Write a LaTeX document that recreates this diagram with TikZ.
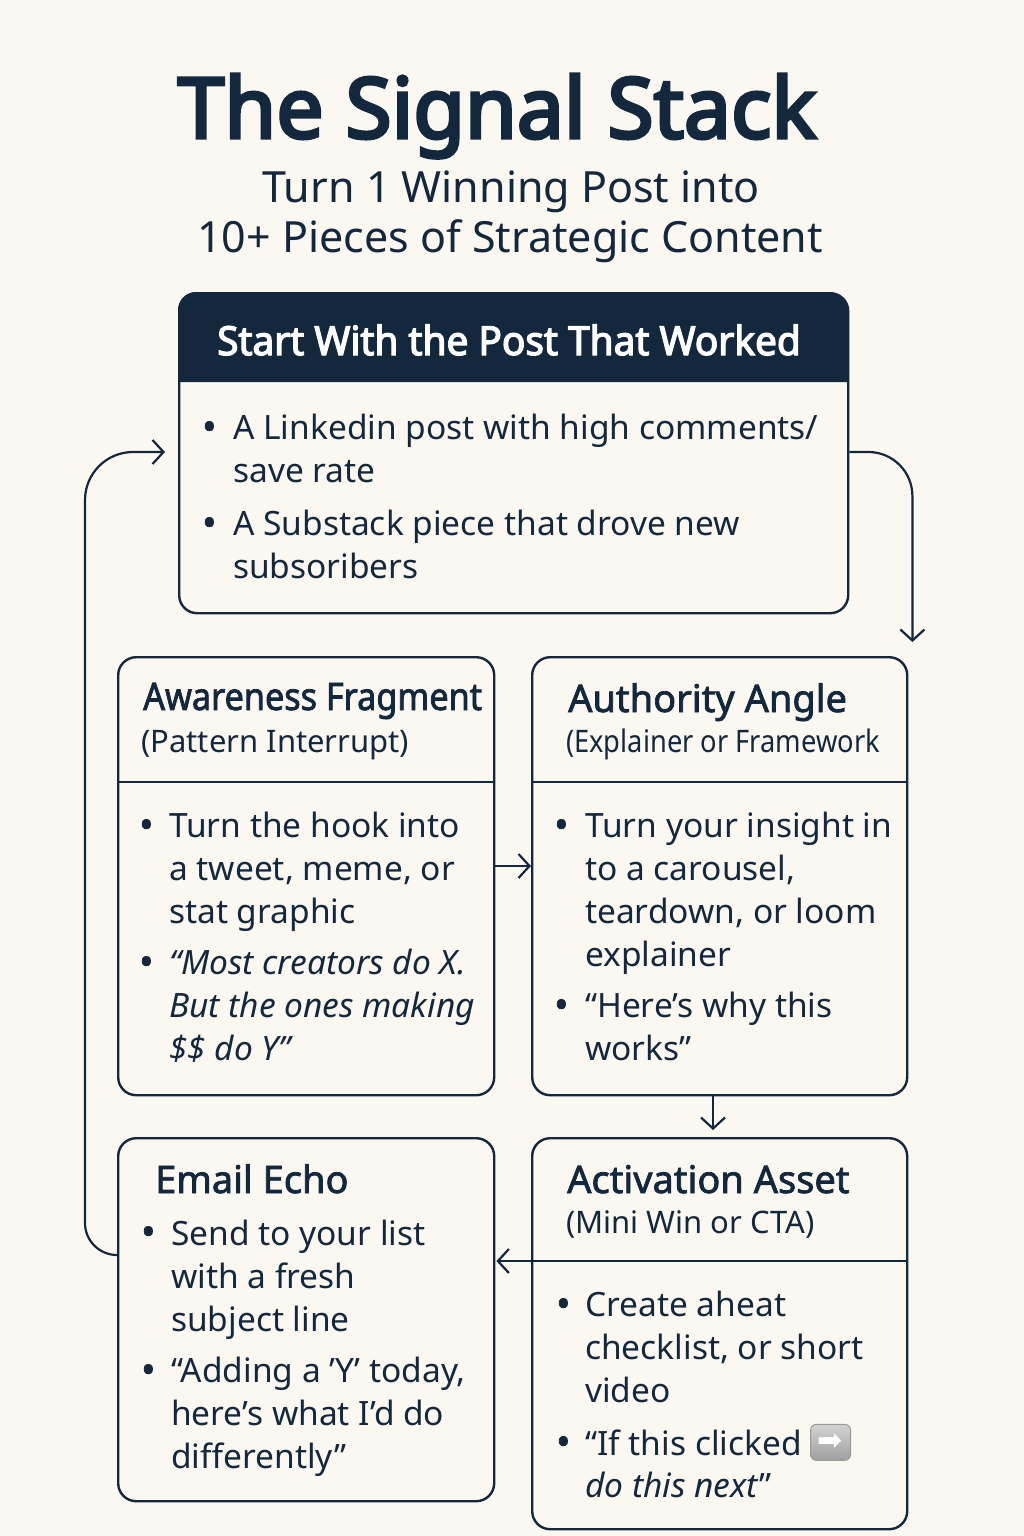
\documentclass[tikz,border=0pt]{standalone}
\usepackage{fontspec}
\setmainfont{Noto Sans}[BoldFont={Noto Sans}, BoldFeatures={FakeBold=2}]
\newfontfamily\titlefont{Noto Sans}[BoldFont={Noto Sans}, BoldFeatures={FakeBold=4}]
\newfontfamily\heavyfont{Noto Sans}[FakeStretch=0.97, BoldFont={Noto Sans}, BoldFeatures={FakeBold=3.2}]
\newfontfamily\narrowfont{Noto Sans}[FakeStretch=0.9, BoldFont={Noto Sans}, BoldFeatures={FakeBold=2}]
\newfontfamily\subnarrow{Noto Sans}[FakeStretch=0.88]
\newfontfamily\emojifont{DejaVu Sans}
\usetikzlibrary{arrows.meta}
\definecolor{bg}{HTML}{FBF8F2}
\definecolor{navy}{HTML}{14283D}
\tikzset{
 card/.style={draw=navy, line width=2.4pt, rounded corners=18pt, anchor=north west, inner sep=0pt},
 divider/.style={draw=navy, line width=2.4pt},
 conn/.style={draw=navy, line width=2.2pt, -{Straight Barb[length=11pt,width=24pt]}},
 bodytxt/.style={anchor=base west, inner sep=0pt, align=left, text=navy, font=\fontsize{33.5}{42.7}\selectfont},
 itxt/.style={bodytxt, font=\fontsize{33.5}{42.7}\selectfont\itshape},
 bul/.style={anchor=base west, inner sep=0pt, text=navy, font=\bfseries\fontsize{38}{42.7}\selectfont},
 headtxt/.style={anchor=base west, inner sep=0pt, text=navy, font=\bfseries\fontsize{38}{44}\selectfont},
 subtxt/.style={anchor=base west, inner sep=0pt, text=navy, font=\fontsize{31}{40}\selectfont},
 emo/.style={rounded corners=6pt, top color=gray!35, bottom color=gray!75, draw=gray!80, line width=1pt,
   minimum width=40pt, minimum height=36pt, inner sep=0pt, text=white, font=\emojifont\fontsize{30}{30}\selectfont},
}
\begin{document}
\begin{tikzpicture}[x=1pt,y=-1pt]
\useasboundingbox (0,0) rectangle (1024,1536);
\fill[bg] (0,0) rectangle (1024,1536);

% title
\node[anchor=base, inner sep=0pt, text=navy, font=\titlefont\bfseries\fontsize{84}{90}\selectfont] (title) at (497,138) {The Signal Stack};
\node[anchor=base, inner sep=0pt, text=navy, font=\fontsize{43}{50}\selectfont] (sub1) at (511,202) {Turn 1 Winning Post into};
\node[anchor=base, inner sep=0pt, text=navy, font=\fontsize{43}{50}\selectfont] (sub2) at (510,252) {10+ Pieces of Strategic Content};

% top card
\fill[navy] (178,382) [rounded corners=18pt] -- (178,292) -- (847,292) [sharp corners] -- (847,382) -- cycle;
\node[card, minimum width=669pt, minimum height=320pt] (top) at (178,292) {};
\node[anchor=base, inner sep=0pt, text=white, font=\heavyfont\bfseries\fontsize{40}{44}\selectfont] (toph) at (509,355) {Start With the Post That Worked};
\node[bul] (tb1) at (202,440) {•};
\node[bodytxt] (tt1) at (233,482) {A Linkedin post with high comments/\\save rate};
\node[bul] (tb2) at (202,536) {•};
\node[bodytxt] (tt2) at (233,578) {A Substack piece that drove new\\subsoribers};

% awareness card
\node[card, minimum width=376pt, minimum height=438pt] (aw) at (117,656) {};
\draw[divider] (117,782) -- (493,782);
\node[headtxt, font=\narrowfont\bfseries\fontsize{38}{44}\selectfont] (awh) at (143,710) {Awareness Fragment};
\node[subtxt] (aws) at (141,752) {(Pattern Interrupt)};
\node[bul] (awb1) at (139,838) {•};
\node[bodytxt] (awt1) at (169,923) {Turn the hook into\\a tweet, meme, or\\stat graphic};
\node[bul] (awb2) at (139,975) {•};
\node[itxt] (awt2) at (169,1060) {“Most creators do X.\\But the ones making\\\$\$ do Y”};

% authority card
\node[card, minimum width=375pt, minimum height=438pt] (auth) at (531,656) {};
\draw[divider] (531,782) -- (906,782);
\node[headtxt] (auh) at (568,712) {Authority Angle};
\node[subtxt, font=\subnarrow\fontsize{31}{40}\selectfont] (aus) at (566,752) {(Explainer or Framework};
\node[bul] (aub1) at (554,838) {•};
\node[bodytxt] (aut1) at (585,966) {Turn your insight in\\to a carousel,\\teardown, or loom\\explainer};
\node[bul] (aub2) at (554,1018) {•};
\node[bodytxt] (aut2) at (585,1060) {“Here’s why this\\works”};

% email card
\node[card, minimum width=376pt, minimum height=363pt] (email) at (117,1137) {};
\node[headtxt] (emh) at (155,1193) {Email Echo};
\node[bul] (emb1) at (141,1245) {•};
\node[bodytxt] (emt1) at (171,1331) {Send to your list\\with a fresh\\subject line};
\node[bul] (emb2) at (141,1383) {•};
\node[bodytxt] (emt2) at (171,1468) {“Adding a ’Y’ today,\\here’s what I’d do\\differently”};

% activation card
\node[card, minimum width=375pt, minimum height=391pt] (act) at (531,1137) {};
\draw[divider] (531,1261) -- (906,1261);
\node[headtxt] (ach) at (567,1193) {Activation Asset};
\node[subtxt] (acs) at (566,1233) {(Mini Win or CTA)};
\node[bul] (acb1) at (556,1317) {•};
\node[bodytxt] (act1) at (585,1402) {Create aheat\\checklist, or short\\video};
\node[bul] (acb2) at (556,1455) {•};
\node[bodytxt] (act2) at (585,1455) {“If this clicked};
\node[emo, anchor=west] (emoji) at ([xshift=8pt]act2.east) {➡};
\node[itxt] (act3) at (585,1497) {do this next\/\upshape ”};

% connector coordinates
\coordinate (y452) at (0,452);
\coordinate (y866) at (0,866);
\coordinate (x713) at (713,0);
\coordinate (y1261) at (0,1261);
\coordinate (y1255) at (0,1255);
\coordinate (x85) at (85,800);

% connectors
\draw[conn, rounded corners=44pt, shorten >=14pt] (top.east |- y452) -| ([xshift=4pt]auth.north east);
\draw[conn] (aw.east |- y866) -- (auth.west |- y866);
\draw[conn, shorten >=7pt] (auth.south -| x713) -- (act.north -| x713);
\draw[conn, shorten >=1pt] (act.west |- y1261) -- (email.east |- y1261);
\draw[conn, shorten >=13pt] (email.west |- y1255) [rounded corners=32pt] -| (x85) [rounded corners=48pt] |- (top.west |- y452);
\end{tikzpicture}
\end{document}
